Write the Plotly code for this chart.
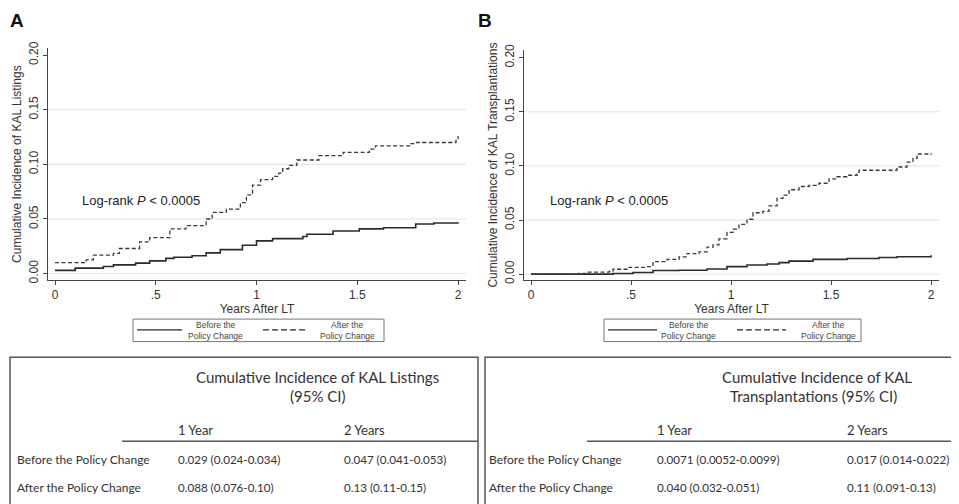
import plotly.graph_objects as go

# The page body has an 8px margin, so the figure is drawn 8px smaller and
# all reference pixel positions are shifted by that offset.
OFF = 8
W, H = 959 - OFF, 504 - OFF

# ---------------- data ----------------
# Panel A: cumulative incidence of KAL listings
a_after_x = [0, 0.155, 0.19, 0.29, 0.32, 0.42, 0.47, 0.57, 0.65, 0.75, 0.78, 0.85, 0.92, 0.95, 0.98,
             1.02, 1.08, 1.11, 1.13, 1.16, 1.20, 1.26, 1.31, 1.40, 1.43, 1.53, 1.56, 1.59, 1.76, 1.78,
             1.95, 1.99, 2.0]
a_after_y = [0.010, 0.0126, 0.017, 0.0185, 0.023, 0.029, 0.033, 0.041, 0.044, 0.050, 0.056, 0.059,
             0.065, 0.072, 0.081, 0.086, 0.089, 0.092, 0.096, 0.099, 0.104, 0.104, 0.108, 0.108,
             0.111, 0.111, 0.114, 0.117, 0.119, 0.120, 0.120, 0.123, 0.126]
a_before_x = [0, 0.1, 0.24, 0.29, 0.40, 0.47, 0.55, 0.59, 0.68, 0.75, 0.82, 0.93, 1.0, 1.08, 1.23,
              1.25, 1.38, 1.51, 1.63, 1.79, 1.88, 2.0]
a_before_y = [0.003, 0.005, 0.0066, 0.008, 0.0096, 0.0117, 0.014, 0.015, 0.0164, 0.019, 0.022, 0.026,
              0.030, 0.032, 0.034, 0.036, 0.039, 0.041, 0.042, 0.0454, 0.0463, 0.047]

# Panel B: cumulative incidence of KAL transplantations
b_after_x = [0, 0.24, 0.28, 0.39, 0.41, 0.49, 0.58, 0.61, 0.68, 0.74, 0.78, 0.84, 0.88, 0.91, 0.94,
             0.98, 1.01, 1.04, 1.08, 1.11, 1.16, 1.19, 1.23, 1.26, 1.29, 1.34, 1.39, 1.44, 1.49, 1.53,
             1.58, 1.63, 1.64, 1.78, 1.83, 1.84, 1.88, 1.91, 1.93, 2.0]
b_after_y = [0, 0.0006, 0.0018, 0.0024, 0.0045, 0.0063, 0.0069, 0.0115, 0.0136, 0.016, 0.019, 0.0205,
             0.025, 0.027, 0.0326, 0.0386, 0.0416, 0.046, 0.0507, 0.0567, 0.058, 0.063, 0.070, 0.073,
             0.078, 0.081, 0.082, 0.084, 0.088, 0.090, 0.0914, 0.094, 0.096, 0.096, 0.098, 0.099,
             0.1035, 0.107, 0.111, 0.110]
b_before_x = [0, 0.41, 0.51, 0.61, 0.74, 0.88, 0.98, 1.08, 1.18, 1.24, 1.29, 1.41, 1.58, 1.74, 1.83, 2.0]
b_before_y = [0, 0.0006, 0.0015, 0.0033, 0.0036, 0.0048, 0.0069, 0.0084, 0.0094, 0.0106, 0.012,
              0.0136, 0.0145, 0.0154, 0.016, 0.0175]

x_tickvals = [0, 0.5, 1, 1.5, 2]
x_ticktext = ["0", ".5", "1", "1.5", "2"]
y_tickvals = [0, 0.05, 0.10, 0.15, 0.20]
y_ticktext = ["0.00", "0.05", "0.10", "0.15", "0.20"]
grid_vals = [0, 0.05, 0.10, 0.15]

legend_lines = [["Before the", "Policy Change"], ["After the", "Policy Change"]]

table_a_title = ["Cumulative Incidence of KAL Listings", "(95% CI)"]
table_b_title = ["Cumulative Incidence of KAL", "Transplantations (95% CI)"]
col_headers = ["1 Year", "2 Years"]
row_labels = ["Before the Policy Change", "After the Policy Change"]
table_a_vals = [["0.029 (0.024-0.034)", "0.047 (0.041-0.053)"],
                ["0.088 (0.076-0.10)", "0.13 (0.11-0.15)"]]
table_b_vals = [["0.0071 (0.0052-0.0099)", "0.017 (0.014-0.022)"],
                ["0.040 (0.032-0.051)", "0.11 (0.091-0.13)"]]

# ---------------- helpers ----------------
def px(x):
    return (x - OFF) / W

def py(y):
    return 1 - (y - OFF) / H

LINE = "#2b2b2b"
AXC = "#444444"
SANS = "Liberation Sans, Arial, sans-serif"
AX_FONT = dict(family=SANS, size=12, color="#333333")
TB_FONT = "Lato, Carlito, Calibri, sans-serif"
DASH = "4px,2.5px"
VAL_SIZE = 11.6

fig = go.Figure()

def add_pair(xb, yb, xa, ya, xref, yref):
    fig.add_trace(go.Scatter(x=xb, y=yb, mode="lines", line=dict(color=LINE, width=1.6, shape="hv"),
                             name="Before the Policy Change", xaxis=xref, yaxis=yref,
                             showlegend=False))
    fig.add_trace(go.Scatter(x=xa, y=ya, mode="lines",
                             line=dict(color="#3a3a3a", width=1.3, shape="hv", dash=DASH),
                             name="After the Policy Change", xaxis=xref, yaxis=yref,
                             showlegend=False))

add_pair(a_before_x, a_before_y, a_after_x, a_after_y, "x", "y")
add_pair(b_before_x, b_before_y, b_after_x, b_after_y, "x2", "y2")

def xaxis_cfg(dom, rng, anchor):
    return dict(domain=dom, range=rng, tickvals=x_tickvals, ticktext=x_ticktext, anchor=anchor,
                showline=True, linecolor=AXC, linewidth=1, ticks="outside", ticklen=4,
                tickcolor=AXC, showgrid=False, zeroline=False, tickfont=AX_FONT,
                title=dict(text="Years After LT", font=AX_FONT, standoff=0))

def yaxis_cfg(dom, rng, title, anchor):
    return dict(domain=dom, range=rng, tickvals=y_tickvals, ticktext=y_ticktext,
                showline=True, linecolor=AXC, linewidth=1, ticks="outside", ticklen=4,
                tickcolor=AXC, showgrid=False, zeroline=False, tickangle=-90, tickfont=AX_FONT,
                anchor=anchor, title=dict(text=title, font=AX_FONT, standoff=2))

fig.update_layout(
    width=W, height=H, margin=dict(l=0, r=0, t=0, b=0),
    paper_bgcolor="white", plot_bgcolor="white", showlegend=False,
    xaxis=xaxis_cfg([px(48), px(466)], [-7 / 201.5, 411 / 201.5], "y"),
    yaxis=yaxis_cfg([py(279), py(42)], [-6.5 / 1117.5, 230.5 / 1117.5],
                    "Cumulative Incidence of KAL Listings", "x"),
    xaxis2=xaxis_cfg([px(524), px(939)], [-7 / 200, 408 / 200], "y2"),
    yaxis2=yaxis_cfg([py(279), py(44)], [-6 / 1106.5, 229 / 1106.5],
                     "Cumulative Incidence of KAL Transplantations", "x2"),
)

shapes = []
for xr, yr in (("x domain", "y"), ("x2 domain", "y2")):
    for g in grid_vals:
        shapes.append(dict(type="line", xref=xr, yref=yr, x0=0, x1=1, y0=g, y1=g,
                           line=dict(color="#e3e3e3", width=1), layer="below"))

ann = []

def text(x, y, s, size, family=TB_FONT, xanchor="left", color="#333333"):
    ann.append(dict(x=px(x), y=py(y), xref="paper", yref="paper", text=s, showarrow=False,
                    xanchor=xanchor, yanchor="middle", font=dict(family=family, size=size, color=color)))

def pline(x0, x1, y, dash=None, width=1.5, color=LINE):
    ln = dict(color=color, width=width)
    if dash:
        ln["dash"] = dash
    shapes.append(dict(type="line", xref="paper", yref="paper", x0=px(x0), x1=px(x1),
                       y0=py(y), y1=py(y), line=ln))

# legends (boxes drawn in paper space)
for (bx0, bx1, s0, s1, t0, d0, d1, t1) in ((133, 384, 137, 182, 215, 263, 307, 347),
                                          (604, 861, 608, 657, 688, 737, 786, 828)):
    shapes.append(dict(type="rect", xref="paper", yref="paper", x0=px(bx0), x1=px(bx1),
                       y0=py(342), y1=py(319), line=dict(color="#777777", width=1)))
    pline(s0, s1, 330, width=1.4)
    pline(d0, d1, 330, dash="6px,3px", width=1.2)
    for cx, lines in ((t0, legend_lines[0]), (t1, legend_lines[1])):
        text(cx, 325.5, lines[0], 8.5, family=SANS, xanchor="center", color="#444444")
        text(cx, 336.5, lines[1], 8.5, family=SANS, xanchor="center", color="#444444")

# table frames
TBC = "#555555"
shapes.append(dict(type="rect", xref="paper", yref="paper", x0=px(10), x1=px(478),
                   y0=py(520), y1=py(358), line=dict(color=TBC, width=1.5)))
pline(122, 478, 444, width=1.5, color=TBC)
shapes.append(dict(type="rect", xref="paper", yref="paper", x0=px(485), x1=px(975),
                   y0=py(520), y1=py(358), line=dict(color=TBC, width=1.5)))
pline(587, 975, 444, width=1.5, color=TBC)
fig.update_layout(shapes=shapes)

# panel letters
text(8, 14, "<b>A</b>", 19, family=SANS, color="#111111")
text(476, 14, "<b>B</b>", 19, family=SANS, color="#111111")
# log-rank
text(80, 198, "Log-rank <i>P</i> &lt; 0.0005", 13, family=SANS, color="#222222")
text(548, 198, "Log-rank <i>P</i> &lt; 0.0005", 13, family=SANS, color="#222222")

# table A
text(317, 378, table_a_title[0], 15, xanchor="center")
text(318, 398, table_a_title[1], 15, xanchor="center")
text(176, 432, col_headers[0], 13)
text(342, 432, col_headers[1], 13)
for i, ry in enumerate((463, 491)):
    text(15, ry, row_labels[i], 12)
    text(176, ry, table_a_vals[i][0], VAL_SIZE)
    text(342, ry, table_a_vals[i][1], VAL_SIZE)

# table B
text(817, 378, table_b_title[0], 15, xanchor="center")
text(813, 398, table_b_title[1], 15, xanchor="center")
text(655, 432, col_headers[0], 13)
text(845, 432, col_headers[1], 13)
for i, ry in enumerate((463, 491)):
    text(487, ry, row_labels[i], 12)
    text(655, ry, table_b_vals[i][0], VAL_SIZE)
    text(845, ry, table_b_vals[i][1], VAL_SIZE)

fig.update_layout(annotations=ann)

fig.write_html("out.html")
